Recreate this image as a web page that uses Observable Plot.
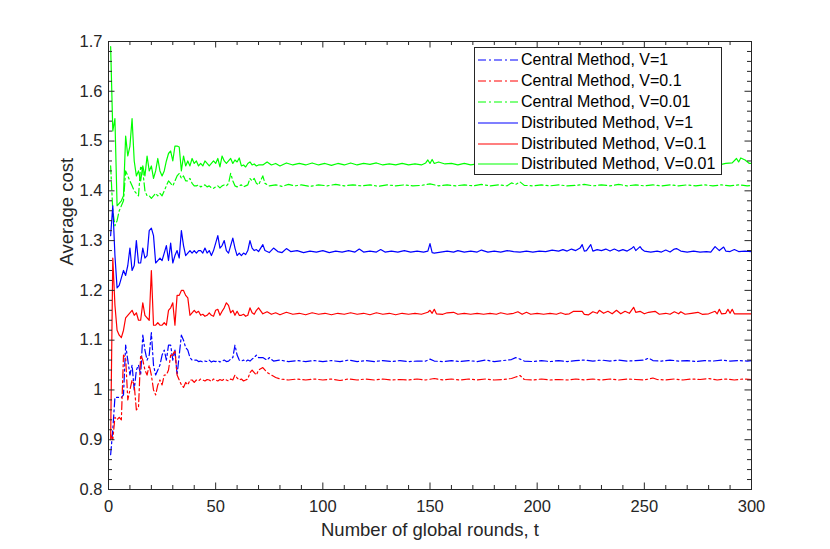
<!DOCTYPE html>
<html><head><meta charset="utf-8">
<script src="https://cdn.jsdelivr.net/npm/d3@7"></script>
<script src="https://cdn.jsdelivr.net/npm/@observablehq/plot@0.6"></script>
<style>
body{margin:0;background:#fff;font-family:"Liberation Sans",Arial,sans-serif;}
#wrap{position:relative;width:830px;height:549px;}
#legend{position:absolute;left:474px;top:47px;border:1px solid #262626;background:#fff;padding-top:2px;box-sizing:border-box;height:128px;width:248px}
.row{display:flex;align-items:center;height:20.8px;font-size:16px;color:#000;white-space:nowrap}
.row svg{margin-left:3px;margin-right:3px}
</style></head><body><div id="wrap"></div>
<script>
// x / y ticks
const xMajor = [0, 50, 100, 150, 200, 250, 300];
const yMajor = [0.8, 0.9, 1, 1.1, 1.2, 1.3, 1.4, 1.5, 1.6, 1.7];

const seriesNames = ["Central Method, V=1", "Central Method, V=0.1", "Central Method, V=0.01",
  "Distributed Method, V=1", "Distributed Method, V=0.1", "Distributed Method, V=0.01"];
const seriesColors = ["#0000ff", "#ff0000", "#00ff00", "#0000ff", "#ff0000", "#00ff00"];
const seriesDash = ["8,3,2,3", "8,3,2,3", "8,3,2,3", null, null, null];

// rounds 1..70, one value per round
const centralV1Early = [0.87,0.92,0.985,0.985,0.985,0.985,0.99,1.09,1.06,1.03,
 1.05,1.0,1.04,1.05,1.03,1.11,1.08,1.06,1.07,1.115,
 1.05,1.03,1.04,1.05,1.07,1.08,1.06,1.09,1.09,1.06,
 1.08,1.03,1.07,1.11,1.10,1.085,1.08,1.065,1.06,1.06,
 1.06,1.057,1.058,1.056,1.058,1.057,1.06,1.056,1.058,1.057,
 1.059,1.056,1.058,1.06,1.057,1.058,1.062,1.065,1.09,1.07,
 1.06,1.058,1.06,1.057,1.06,1.058,1.062,1.065,1.07,1.065];
const centralV01Early = [0.91,0.90,0.945,0.94,0.945,0.94,1.07,1.065,0.98,1.0,
 1.02,1.01,0.96,0.965,1.07,1.06,1.04,1.03,1.05,1.03,
 1.0,0.99,1.01,1.02,1.01,1.03,1.03,1.04,1.07,1.07,
 1.08,1.03,1.02,1.01,1.005,1.015,1.01,1.02,1.02,1.015,
 1.02,1.018,1.022,1.02,1.018,1.021,1.02,1.017,1.022,1.02,
 1.018,1.021,1.019,1.022,1.02,1.018,1.022,1.02,1.03,1.024,
 1.02,1.022,1.018,1.02,1.022,1.035,1.04,1.035,1.03,1.04];
const centralV001Early = [1.45,1.36,1.33,1.34,1.36,1.37,1.38,1.44,1.43,1.42,
 1.41,1.40,1.395,1.39,1.45,1.44,1.40,1.39,1.39,1.385,
 1.39,1.395,1.39,1.395,1.39,1.40,1.41,1.42,1.415,1.41,
 1.42,1.43,1.435,1.425,1.43,1.42,1.42,1.425,1.415,1.41,
 1.41,1.412,1.408,1.41,1.412,1.408,1.41,1.406,1.405,1.408,
 1.41,1.406,1.41,1.412,1.41,1.415,1.435,1.42,1.41,1.408,
 1.41,1.412,1.408,1.41,1.412,1.425,1.42,1.425,1.415,1.412];
const distV1Early = [1.31,1.37,1.27,1.205,1.21,1.225,1.24,1.23,1.25,1.285,
 1.24,1.25,1.30,1.255,1.255,1.285,1.265,1.27,1.32,1.325,
 1.31,1.255,1.26,1.265,1.26,1.275,1.29,1.26,1.295,1.255,
 1.27,1.28,1.265,1.32,1.29,1.27,1.275,1.28,1.275,1.28,
 1.275,1.28,1.28,1.275,1.285,1.275,1.28,1.27,1.28,1.295,
 1.31,1.285,1.29,1.30,1.28,1.275,1.29,1.305,1.285,1.27,
 1.275,1.27,1.275,1.272,1.28,1.30,1.285,1.28,1.282,1.278];
const distV01Early = [0.9,1.265,1.17,1.12,1.11,1.105,1.12,1.145,1.15,1.155,
 1.16,1.15,1.155,1.14,1.14,1.175,1.15,1.145,1.14,1.24,
 1.13,1.13,1.135,1.13,1.13,1.135,1.13,1.16,1.165,1.175,
 1.13,1.19,1.19,1.20,1.20,1.19,1.185,1.15,1.155,1.16,
 1.155,1.158,1.15,1.152,1.148,1.15,1.155,1.15,1.148,1.16,
 1.162,1.15,1.158,1.165,1.175,1.17,1.155,1.16,1.15,1.158,
 1.15,1.15,1.152,1.148,1.15,1.165,1.155,1.152,1.16,1.165];
const distV001Early = [1.69,1.52,1.545,1.37,1.375,1.38,1.39,1.51,1.47,1.49,
 1.545,1.46,1.43,1.44,1.42,1.45,1.43,1.47,1.44,1.45,
 1.425,1.44,1.465,1.44,1.43,1.44,1.46,1.475,1.48,1.46,
 1.49,1.49,1.488,1.44,1.47,1.45,1.46,1.45,1.465,1.455,
 1.46,1.45,1.455,1.45,1.46,1.455,1.45,1.455,1.46,1.455,
 1.465,1.448,1.47,1.46,1.455,1.46,1.465,1.455,1.462,1.458,
 1.466,1.45,1.452,1.448,1.455,1.458,1.452,1.454,1.45,1.452];

// later rounds, [round, value]
const centralV1Late = [[72,1.065],[74,1.06],[75,1.065],[77,1.058],[80,1.06],[84,1.057],[88,1.059],[92,1.057],[96,1.059],[100,1.057],[104,1.059],[108,1.057],[112,1.06],[116,1.057],[120,1.059],[124,1.057],[128,1.059],[132,1.057],[136,1.059],[140,1.057],[144,1.058],[148,1.058],[150,1.062],[152,1.058],[156,1.057],[160,1.059],[164,1.057],[168,1.059],[172,1.057],[176,1.06],[180,1.057],[184,1.059],[188,1.061],[190,1.065],[192,1.062],[194,1.058],[198,1.057],[202,1.059],[206,1.057],[210,1.059],[214,1.057],[218,1.059],[222,1.06],[226,1.058],[230,1.06],[234,1.058],[238,1.06],[242,1.058],[246,1.059],[250,1.06],[252,1.064],[254,1.059],[258,1.058],[262,1.06],[266,1.058],[270,1.059],[274,1.057],[278,1.059],[282,1.058],[286,1.06],[290,1.058],[294,1.059],[298,1.058],[300,1.059]];
const centralV01Late = [[72,1.045],[74,1.035],[76,1.03],[78,1.025],[80,1.022],[84,1.02],[88,1.022],[92,1.02],[96,1.022],[100,1.02],[104,1.022],[108,1.019],[112,1.022],[116,1.02],[120,1.022],[124,1.02],[128,1.022],[132,1.02],[136,1.021],[140,1.02],[144,1.022],[148,1.02],[152,1.023],[156,1.02],[160,1.022],[164,1.02],[168,1.022],[172,1.02],[176,1.022],[180,1.02],[184,1.021],[188,1.023],[190,1.026],[192,1.029],[194,1.021],[198,1.02],[202,1.022],[206,1.02],[210,1.021],[214,1.02],[218,1.022],[222,1.02],[226,1.022],[230,1.02],[234,1.022],[238,1.02],[242,1.022],[246,1.021],[250,1.02],[254,1.024],[256,1.021],[260,1.02],[264,1.022],[268,1.02],[272,1.022],[276,1.021],[280,1.023],[284,1.02],[288,1.022],[292,1.02],[296,1.022],[300,1.021]];
const centralV001Late = [[72,1.43],[73,1.415],[75,1.41],[78,1.412],[81,1.409],[84,1.413],[87,1.41],[90,1.412],[94,1.409],[98,1.412],[102,1.41],[106,1.413],[110,1.41],[114,1.412],[118,1.41],[122,1.412],[126,1.409],[130,1.412],[134,1.41],[138,1.412],[142,1.41],[146,1.411],[150,1.414],[154,1.41],[158,1.412],[162,1.41],[166,1.412],[170,1.41],[174,1.413],[178,1.41],[182,1.412],[186,1.41],[188,1.416],[190,1.413],[192,1.418],[194,1.411],[198,1.41],[202,1.412],[206,1.41],[210,1.412],[214,1.41],[218,1.411],[222,1.413],[226,1.41],[230,1.412],[234,1.41],[238,1.413],[242,1.41],[246,1.412],[250,1.41],[254,1.412],[258,1.41],[262,1.412],[266,1.41],[270,1.412],[274,1.41],[278,1.412],[282,1.41],[286,1.412],[290,1.41],[294,1.412],[298,1.41],[300,1.411]];
const distV1Late = [[72,1.292],[73,1.28],[75,1.276],[77,1.285],[79,1.278],[81,1.276],[83,1.284],[85,1.278],[88,1.28],[91,1.276],[94,1.279],[97,1.277],[100,1.28],[103,1.276],[106,1.279],[109,1.277],[112,1.28],[115,1.277],[117,1.283],[119,1.277],[122,1.279],[125,1.277],[127,1.282],[129,1.277],[132,1.279],[135,1.277],[138,1.28],[141,1.277],[144,1.279],[147,1.277],[149,1.279],[150,1.294],[151,1.276],[152,1.275],[155,1.277],[158,1.279],[161,1.277],[163,1.28],[166,1.277],[169,1.279],[172,1.277],[174,1.281],[177,1.277],[180,1.279],[183,1.277],[186,1.28],[189,1.278],[192,1.277],[195,1.279],[198,1.277],[201,1.279],[204,1.278],[207,1.281],[210,1.279],[212,1.282],[214,1.279],[216,1.283],[218,1.28],[220,1.285],[221,1.292],[222,1.279],[223,1.28],[225,1.292],[226,1.279],[228,1.282],[230,1.28],[232,1.283],[234,1.279],[236,1.283],[238,1.279],[240,1.282],[242,1.279],[244,1.284],[245,1.288],[246,1.28],[248,1.288],[249,1.282],[250,1.279],[253,1.277],[256,1.279],[258,1.277],[260,1.281],[262,1.277],[264,1.283],[265,1.284],[267,1.279],[270,1.277],[273,1.279],[276,1.277],[279,1.278],[281,1.277],[283,1.288],[285,1.28],[287,1.287],[288,1.279],[290,1.278],[292,1.282],[294,1.278],[297,1.279],[300,1.278]];
const distV01Late = [[72,1.153],[74,1.157],[76,1.152],[78,1.155],[80,1.151],[83,1.156],[86,1.152],[89,1.154],[92,1.151],[95,1.155],[98,1.152],[101,1.154],[104,1.151],[107,1.154],[110,1.152],[113,1.155],[116,1.152],[119,1.154],[122,1.151],[125,1.155],[128,1.152],[131,1.154],[134,1.151],[137,1.154],[140,1.152],[143,1.154],[146,1.152],[149,1.156],[150,1.16],[151,1.154],[152,1.162],[153,1.153],[156,1.152],[158,1.155],[161,1.156],[163,1.152],[166,1.154],[169,1.152],[172,1.154],[175,1.152],[178,1.154],[181,1.152],[183,1.155],[186,1.152],[189,1.154],[191,1.157],[193,1.152],[195,1.156],[197,1.152],[200,1.154],[203,1.152],[206,1.154],[209,1.152],[211,1.155],[213,1.152],[215,1.153],[217,1.158],[219,1.158],[221,1.158],[222,1.152],[224,1.151],[226,1.157],[228,1.154],[229,1.16],[231,1.154],[233,1.158],[235,1.153],[237,1.16],[239,1.153],[241,1.158],[243,1.154],[245,1.166],[246,1.156],[248,1.158],[250,1.153],[252,1.156],[255,1.158],[257,1.152],[260,1.154],[262,1.152],[264,1.157],[266,1.153],[267,1.157],[269,1.152],[272,1.154],[275,1.156],[277,1.152],[280,1.153],[283,1.158],[284,1.153],[285,1.162],[286,1.153],[288,1.154],[289,1.162],[290,1.154],[291,1.162],[292,1.153],[294,1.153],[297,1.153],[300,1.153]];
const distV001Late = [[72,1.452],[74,1.458],[76,1.452],[78,1.455],[80,1.45],[83,1.456],[86,1.452],[89,1.455],[92,1.452],[95,1.456],[98,1.452],[101,1.455],[104,1.451],[107,1.455],[110,1.452],[113,1.456],[116,1.452],[119,1.455],[122,1.453],[125,1.456],[128,1.452],[131,1.454],[134,1.452],[137,1.455],[140,1.452],[143,1.454],[146,1.452],[148,1.456],[149,1.462],[150,1.455],[151,1.463],[152,1.455],[154,1.458],[157,1.454],[160,1.455],[163,1.452],[166,1.455],[169,1.452],[172,1.454],[175,1.452],[178,1.455],[181,1.452],[184,1.456],[187,1.453],[190,1.458],[192,1.455],[195,1.452],[198,1.455],[201,1.452],[204,1.454],[207,1.452],[210,1.455],[213,1.452],[216,1.455],[219,1.452],[222,1.456],[225,1.453],[228,1.455],[231,1.452],[234,1.456],[237,1.452],[240,1.455],[243,1.452],[246,1.454],[249,1.452],[252,1.455],[255,1.452],[258,1.455],[261,1.452],[264,1.455],[267,1.458],[270,1.455],[273,1.452],[276,1.455],[279,1.452],[282,1.454],[285,1.452],[288,1.455],[291,1.456],[293,1.465],[294,1.458],[295,1.466],[297,1.462],[299,1.455],[300,1.455]];

const earlyList = [centralV1Early, centralV01Early, centralV001Early, distV1Early, distV01Early, distV001Early];
const lateList = [centralV1Late, centralV01Late, centralV001Late, distV1Late, distV01Late, distV001Late];

const W = 830, H = 549, mL = 108, mR = 79, mT = 41, mB = 60;
const plotW = W - mL - mR, plotH = H - mT - mB;
const xDom = [0, 300], yDom = [0.8, 1.7];
const pxX = (xDom[1] - xDom[0]) / plotW, pxY = (yDom[1] - yDom[0]) / plotH;
const majLen = 6.5, minLen = 4;
const xMinor = d3.range(0, 301, 10).filter(v => !xMajor.includes(v));
const yMinor = d3.range(0, 46).map(i => +(0.8 + i * 0.02).toFixed(2)).filter(v => !yMajor.some(m => Math.abs(m - v) < 1e-9));
const axisColor = "#262626";

const tickMarks = [];
for (const [arr, len] of [[xMajor, majLen], [xMinor, minLen]]) {
  tickMarks.push(Plot.ruleX(arr, {x: d => d, y1: yDom[0], y2: yDom[0] + len * pxY, stroke: axisColor}));
  tickMarks.push(Plot.ruleX(arr, {x: d => d, y1: yDom[1], y2: yDom[1] - len * pxY, stroke: axisColor}));
}
for (const [arr, len] of [[yMajor, majLen], [yMinor, minLen]]) {
  tickMarks.push(Plot.ruleY(arr, {y: d => d, x1: xDom[0], x2: xDom[0] + len * pxX, stroke: axisColor}));
  tickMarks.push(Plot.ruleY(arr, {y: d => d, x1: xDom[1], x2: xDom[1] - len * pxX, stroke: axisColor}));
}

const lineMarks = seriesNames.map((name, k) => {
  const rows = earlyList[k].map((v, i) => ({t: i + 1, v}))
    .concat(lateList[k].map(([t, v]) => ({t, v})));
  return Plot.line(rows, {x: "t", y: "v", stroke: seriesColors[k], strokeWidth: 1.2,
    strokeDasharray: seriesDash[k] || undefined});
});

const chart = Plot.plot({
  width: W, height: H,
  marginLeft: mL, marginRight: mR, marginTop: mT, marginBottom: mB,
  x: {domain: xDom},
  y: {domain: yDom},
  style: {fontFamily: "'Liberation Sans', Arial, sans-serif", fontSize: "16.5px", color: axisColor, background: "#fff", overflow: "visible"},
  marks: [
    ...lineMarks,
    ...tickMarks,
    Plot.frame({stroke: axisColor}),
    Plot.axisX(xMajor, {tickSize: 0, tickPadding: 11, fontSize: 16.5, label: null, tickFormat: d => String(d)}),
    Plot.axisY(yMajor, {tickSize: 0, tickPadding: 6, fontSize: 16.5, label: null, tickFormat: d3.format("~g")}),
    Plot.text(["Number of global rounds, t"], {frameAnchor: "bottom", dy: 46, text: d => d, fontSize: 18.5, fill: axisColor}),
    Plot.text(["Average cost"], {frameAnchor: "left", dx: -41, rotate: -90, text: d => d, fontSize: 18.5, fill: axisColor})
  ]
});
const wrap = document.getElementById("wrap");
wrap.appendChild(chart);

const legend = document.createElement("div");
legend.id = "legend";
seriesNames.forEach((name, k) => {
  const row = document.createElement("div");
  row.className = "row";
  const dash = seriesDash[k] ? ` stroke-dasharray="${seriesDash[k]}"` : "";
  row.innerHTML = `<svg width="40" height="10"><line x1="0" y1="5" x2="40" y2="5" stroke="${seriesColors[k]}" stroke-width="1.2"${dash}/></svg><span>${name}</span>`;
  legend.appendChild(row);
});
wrap.appendChild(legend);
</script></body></html>
